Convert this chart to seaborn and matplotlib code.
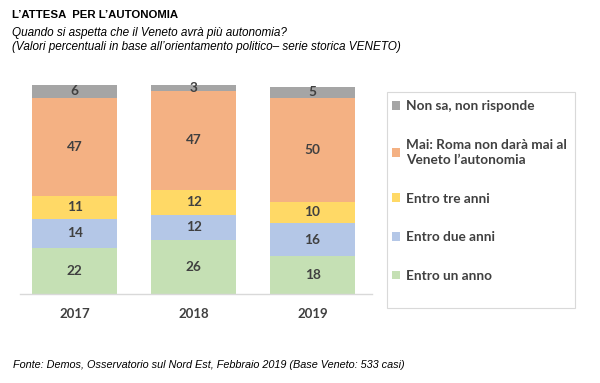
import matplotlib
matplotlib.use("Agg")
import matplotlib.pyplot as plt
from matplotlib.patches import Patch, Rectangle
import seaborn as sns
import pandas as pd

years = [2017, 2018, 2019]
categories = [
    "Non sa, non risponde",
    "Mai: Roma non darà mai al\nVeneto l’autonomia",
    "Entro tre anni",
    "Entro due anni",
    "Entro un anno",
]
non_sa = [6, 3, 5]
mai = [47, 47, 50]
entro_tre = [11, 12, 10]
entro_due = [14, 12, 16]
entro_un = [22, 26, 18]
series = [non_sa, mai, entro_tre, entro_due, entro_un]
colors = ["#A5A5A5", "#F4B183", "#FFD966", "#B4C7E7", "#C5E0B4"]

rows = []
for cat, vals in zip(categories, series):
    for y, v in zip(years, vals):
        rows.append({"anno": y, "categoria": cat, "valore": v})
df = pd.DataFrame(rows)

sns.set_theme(style="white")
plt.rcParams["font.family"] = ["Liberation Sans", "DejaVu Sans"]

fig = plt.figure(figsize=(6.0, 3.83), dpi=100)
ax = fig.add_axes([20 / 600, 89 / 383, 352 / 600, 209 / 383])

sns.histplot(
    data=df, x="anno", weights="valore", hue="categoria",
    hue_order=categories, palette=colors, multiple="stack",
    discrete=True, shrink=0.714, alpha=1, linewidth=0,
    legend=False, ax=ax,
)

for c in ax.containers:
    ax.bar_label(c, fmt="%.0f", label_type="center", fontsize=9.8,
                 color="#404040", fontweight="bold", family="Lato")

ax.set_ylim(0, 100)
ax.set_xlim(years[0] - 0.46, years[-1] + 0.5)
ax.set_xticks(years)
ax.set_xticklabels([str(y) for y in years], fontsize=9.5, color="#404040",
                   fontweight="bold", family="Lato")
ax.tick_params(axis="x", length=0, pad=10)
ax.set_yticks([])
ax.set_xlabel("")
ax.set_ylabel("")
for s in ["top", "left", "right"]:
    ax.spines[s].set_visible(False)
ax.spines["bottom"].set_color("#D9D9D9")
ax.spines["bottom"].set_linewidth(1)

# legend
handles = [Patch(facecolor=col, edgecolor="none") for col in colors]
leg = fig.legend(handles, categories, loc="upper left",
                 bbox_to_anchor=(392 / 600, 1 - 100 / 383),
                 frameon=False, handlelength=0.6, handleheight=0.6,
                 handletextpad=0.4, labelspacing=1.95, borderpad=0,
                 borderaxespad=0,
                 prop={"family": "Lato", "weight": "bold", "size": 9.8})
for t in leg.get_texts():
    t.set_color("#404040")
    t.set_linespacing(1.35)
fig.patches.append(Rectangle((387 / 600, 1 - 308 / 383), 188 / 600, 216 / 383,
                             transform=fig.transFigure, facecolor="none",
                             edgecolor="#D9D9D9", linewidth=0.8))

fig.text(12 / 600, 1 - 15 / 383, "L’ATTESA  PER L’AUTONOMIA", fontsize=8.2,
         fontweight="bold", va="center", ha="left", color="#000000")
fig.text(12 / 600, 1 - 33 / 383, "Quando si aspetta che il Veneto avrà più autonomia?",
         fontsize=8.5, style="italic", va="center", ha="left", color="#000000")
fig.text(12 / 600, 1 - 47 / 383,
         "(Valori percentuali in base all’orientamento politico– serie storica VENETO)",
         fontsize=8.5, style="italic", va="center", ha="left", color="#000000")
fig.text(13 / 600, 1 - 365 / 383,
         "Fonte: Demos, Osservatorio sul Nord Est, Febbraio 2019 (Base Veneto: 533 casi)",
         fontsize=7.8, style="italic", va="center", ha="left", color="#000000")

fig.savefig("out.png", dpi=100)
